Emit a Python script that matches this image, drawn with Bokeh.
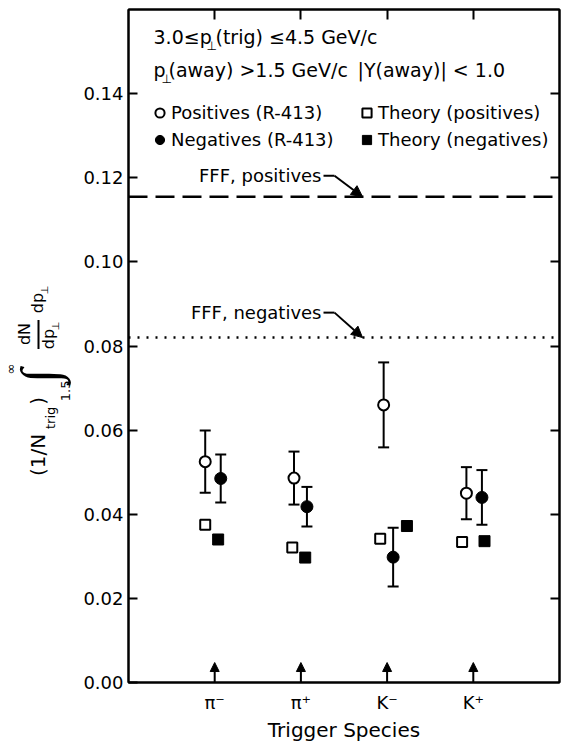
import math

from bokeh.core.properties import value
from bokeh.embed import file_html
from bokeh.layouts import row
from bokeh.models import (Arrow, ColumnDataSource, FixedTicker, Label, Legend,
                          LegendItem, LinearAxis, NormalHead, NumeralTickFormatter,
                          Span, TeeHead, Whisker)
from bokeh.plotting import figure
from bokeh.resources import INLINE

# ---------------------------------------------------------------- data
species = ["π⁻", "π⁺", "K⁻", "K⁺"]
species_x = [1, 2, 3, 4]

# R-413 measurements, positive away-side hadrons
pos_x = [0.89, 1.92, 2.96, 3.92]
pos_val = [0.0525, 0.0486, 0.0660, 0.0450]
pos_err = [0.0074, 0.0063, 0.0101, 0.0062]

# R-413 measurements, negative away-side hadrons
neg_x = [1.07, 2.07, 3.07, 4.10]
neg_val = [0.0485, 0.0418, 0.0298, 0.0440]
neg_err = [0.0057, 0.0047, 0.0070, 0.0065]

# model predictions
th_pos_x = [0.89, 1.90, 2.92, 3.87]
th_pos_val = [0.0375, 0.0321, 0.0342, 0.0334]
th_neg_x = [1.04, 2.05, 3.23, 4.13]
th_neg_val = [0.0340, 0.0297, 0.0372, 0.0336]

# Field-Feynman-Fox levels
fff_pos = 0.1155
fff_neg = 0.0820

y_ticks = [0.00, 0.02, 0.04, 0.06, 0.08, 0.10, 0.12, 0.14]

# ---------------------------------------------------------------- layout
FONT = "DejaVu Sans"
X_RANGE = (0, 5)
Y_RANGE = (0, 0.16)
W, H = 565, 744
TITLE_W = 80                      # strip holding the vertical axis title
FRAME_L, FRAME_T, FRAME_W, FRAME_H = 128, 9, 431, 674


def ux(px):
    """page x pixel -> data x"""
    return X_RANGE[0] + (px - FRAME_L) * (X_RANGE[1] - X_RANGE[0]) / FRAME_W


def uy(py):
    """page y pixel -> data y"""
    return Y_RANGE[1] - (py - FRAME_T) * (Y_RANGE[1] - Y_RANGE[0]) / FRAME_H


def dpy(n):
    """vertical pixel distance -> data distance"""
    return n * (Y_RANGE[1] - Y_RANGE[0]) / FRAME_H


p = figure(width=W - TITLE_W, height=H, x_range=X_RANGE, y_range=Y_RANGE,
           output_backend="svg", toolbar_location=None,
           min_border_left=FRAME_L - TITLE_W, min_border_top=FRAME_T,
           min_border_right=W - FRAME_L - FRAME_W,
           min_border_bottom=H - FRAME_T - FRAME_H)
p.background_fill_color = "white"
p.border_fill_color = "white"
p.outline_line_color = "black"
p.outline_line_width = 2
p.xgrid.visible = False
p.ygrid.visible = False

# left axis
ya = p.yaxis[0]
ya.ticker = FixedTicker(ticks=y_ticks)
ya.formatter = NumeralTickFormatter(format="0.00")
ya.major_tick_in = 9
ya.major_tick_out = 0
ya.minor_tick_line_color = None
ya.axis_line_width = 2
ya.major_tick_line_width = 2
ya.major_label_standoff = 5
ya.major_label_text_font = FONT
ya.major_label_text_font_size = "18px"
ya.major_label_text_color = "black"

# bottom axis: species names, no tick marks
xa = p.xaxis[0]
xa.ticker = FixedTicker(ticks=species_x)
xa.major_label_overrides = {x: s for x, s in zip(species_x, species)}
xa.major_tick_in = 0
xa.major_tick_out = 0
xa.minor_tick_line_color = None
xa.axis_line_width = 2
xa.major_label_standoff = 9
xa.major_label_text_font = FONT
xa.major_label_text_font_size = "18px"
xa.major_label_text_color = "black"
xa.axis_label = "Trigger Species"
xa.axis_label_text_font = FONT
xa.axis_label_text_font_size = "20px"
xa.axis_label_text_font_style = "normal"
xa.axis_label_text_color = "black"
xa.axis_label_standoff = 2

# mirrored ticks on top and right (no labels)
top = LinearAxis(ticker=FixedTicker(ticks=species_x), major_tick_in=10,
                 major_tick_out=0, major_tick_line_width=2, axis_line_width=2,
                 minor_tick_line_color=None, major_label_text_font_size="1px",
                 major_label_text_color=None, major_label_standoff=0)
p.add_layout(top, "above")
right = LinearAxis(ticker=FixedTicker(ticks=y_ticks[1:]), major_tick_in=9,
                   major_tick_out=0, major_tick_line_width=2, axis_line_width=2,
                   minor_tick_line_color=None, major_label_text_font_size="1px",
                   major_label_text_color=None, major_label_standoff=0)
p.add_layout(right, "right")

# ---------------------------------------------------------------- FFF levels
p.add_layout(Span(location=fff_pos, dimension="width", line_color="black",
                  line_width=2.5, line_dash="19 8"))
p.add_layout(Span(location=fff_neg, dimension="width", line_color="black",
                  line_width=2.5, line_dash="2 7"))

for level, name, rise in [(fff_pos, "FFF, positives", 21), (fff_neg, "FFF, negatives", 25)]:
    ly = level + dpy(rise)
    p.add_layout(Label(x=ux(321), y=ly, text=name, text_font=FONT,
                       text_font_size="18px", text_align="right",
                       text_baseline="middle", text_color="black"))
    p.add_layout(Arrow(end=None, x_start=ux(323), y_start=ly, x_end=ux(334),
                       y_end=ly, line_width=2, line_color="black"))
    p.add_layout(Arrow(end=NormalHead(size=11, fill_color="black", line_color="black"),
                       x_start=ux(334), y_start=ly, x_end=ux(362), y_end=level,
                       line_width=2, line_color="black"))

# ---------------------------------------------------------------- trigger arrows
for x in species_x:
    p.add_layout(Arrow(end=NormalHead(size=9, fill_color="black", line_color="black"),
                       x_start=x, y_start=0, x_end=x, y_end=dpy(20),
                       line_width=2, line_color="black"))

# ---------------------------------------------------------------- error bars
for xs, vals, errs in [(pos_x, pos_val, pos_err), (neg_x, neg_val, neg_err)]:
    src = ColumnDataSource(dict(x=xs,
                                lo=[v - e for v, e in zip(vals, errs)],
                                hi=[v + e for v, e in zip(vals, errs)]))
    p.add_layout(Whisker(source=src, base="x", lower="lo", upper="hi",
                         line_width=2, line_color="black",
                         upper_head=TeeHead(size=11, line_width=2, line_color="black"),
                         lower_head=TeeHead(size=11, line_width=2, line_color="black")))

# ---------------------------------------------------------------- points
r_pos = p.scatter(pos_x, pos_val, marker="circle", size=11, fill_color="white",
                  line_color="black", line_width=2)
r_neg = p.scatter(neg_x, neg_val, marker="circle", size=12, fill_color="black",
                  line_color="black", line_width=1)
r_thp = p.scatter(th_pos_x, th_pos_val, marker="square", size=10, fill_color="white",
                  line_color="black", line_width=2)
r_thn = p.scatter(th_neg_x, th_neg_val, marker="square", size=11, fill_color="black",
                  line_color="black", line_width=1)

# ---------------------------------------------------------------- legends
common = dict(border_line_color=None, background_fill_alpha=0, padding=0, margin=0,
              spacing=4, glyph_width=23, glyph_height=23, label_standoff=0,
              label_text_font=FONT, label_text_font_size="18px",
              label_text_color="black", label_height=23)
leg_a = Legend(items=[LegendItem(label="Positives (R-413)", renderers=[r_pos]),
                      LegendItem(label="Negatives (R-413)", renderers=[r_neg])],
               location=(148 - FRAME_L, FRAME_T + FRAME_H - 152), **common)
leg_b = Legend(items=[LegendItem(label="Theory (positives)", renderers=[r_thp]),
                      LegendItem(label="Theory (negatives)", renderers=[r_thn])],
               location=(355 - FRAME_L, FRAME_T + FRAME_H - 152), **common)
p.add_layout(leg_a)
p.add_layout(leg_b)


def text(px, py, s, size=18, align="left"):
    p.add_layout(Label(x=ux(px), y=uy(py), text=s, text_font=FONT,
                       text_font_size=f"{size}px", text_align=align,
                       text_baseline="middle", text_color="black"))


# kinematic cuts
text(153, 37, "3.0≤p", 19)
text(206, 46, "⊥", 12)
text(215, 37, "(trig) ≤4.5 GeV/c", 19)
text(153, 70, "p", 19)
text(161, 79, "⊥", 12)
text(168, 70, "(away) >1.5 GeV/c", 19)
text(357, 70, "|Y(away)| < 1.0", 19)

# ---------------------------------------------------------------- vertical axis title
# drawn in its own narrow strip; the row aligns its frame with the main frame,
# so its y range spans the same page rows (y measured upward from the page bottom)
t = figure(width=TITLE_W, height=H, x_range=(0, TITLE_W),
           y_range=(H - FRAME_T - FRAME_H, H - FRAME_T),
           output_backend="svg", toolbar_location=None,
           x_axis_location=None, y_axis_location=None,
           min_border_left=0, min_border_right=0,
           min_border_top=FRAME_T, min_border_bottom=H - FRAME_T - FRAME_H)
t.outline_line_color = None
t.xgrid.visible = False
t.ygrid.visible = False
t.background_fill_color = "white"
t.border_fill_color = "white"

up = math.pi / 2


def vtext(px, py, s, size, font=FONT, baseline="middle"):
    t.text(x=[px], y=[H - py], text=[s], angle=up, text_font=value(font),
           text_font_size=value(f"{size}px"), text_align="center",
           text_baseline=baseline, text_color="black")


vtext(37, 455, "(1/N", 20)
vtext(50, 418, "trig", 13)
vtext(37, 401, ")", 20)
vtext(39, 376, "∫", 52, "Liberation Serif", "alphabetic")
vtext(10, 369, "∞", 13)
vtext(65, 391, "1.5", 13)
vtext(24, 334, "dN", 16)
t.segment(x0=[38], y0=[H - 320], x1=[38], y1=[H - 349], line_width=2, line_color="black")
vtext(48, 339, "dp", 16)
vtext(55, 326, "⊥", 10)
vtext(37, 303, "dp", 16)
vtext(44, 290, "⊥", 10)

layout = row(t, p, spacing=0)
open("out.html", "w").write(file_html(layout, INLINE))
